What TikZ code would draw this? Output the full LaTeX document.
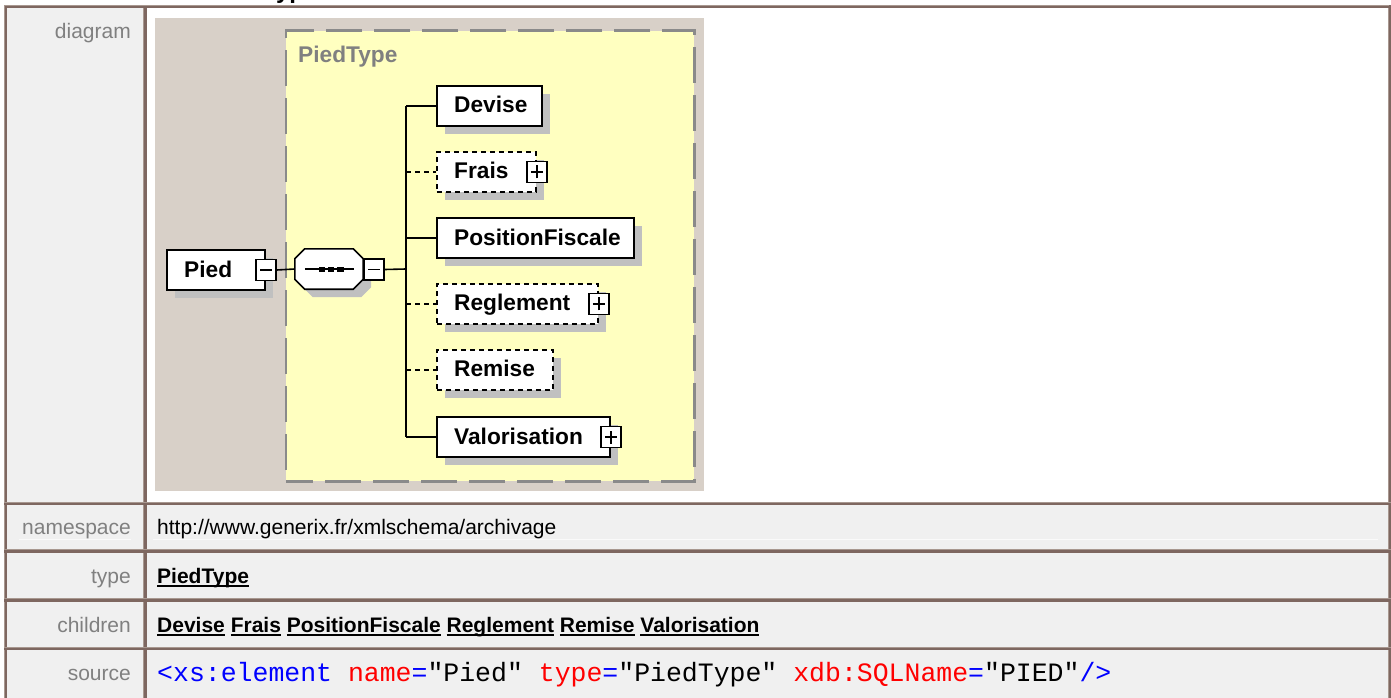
\documentclass[tikz,border=0pt]{standalone}
\usepackage{fontspec}
\setmainfont{Liberation Sans}
\newfontfamily\srcmono{Liberation Mono}
\usetikzlibrary{shadows}
\definecolor{bgbeige}{HTML}{D8D0C8}
\definecolor{typeyellow}{HTML}{FFFFC0}
\definecolor{shadowgray}{HTML}{C0C0C0}
\definecolor{rowgray}{HTML}{F0F0F0}
\definecolor{labelgray}{HTML}{808080}
\definecolor{borderdark}{HTML}{7E6760}
\definecolor{borderlight}{HTML}{A89890}
\definecolor{dashgray}{HTML}{8A8A8A}
\definecolor{srcblue}{HTML}{0000FF}
\definecolor{srcred}{HTML}{FF0000}
\definecolor{faintline}{HTML}{FAFAFA}
\newsavebox\lnkbox
\newcommand\lnk[1]{\sbox\lnkbox{#1}\rlap{\raisebox{-3.5pt}{\rule{\wd\lnkbox}{2pt}}}\usebox\lnkbox}
\begin{document}
\begin{tikzpicture}[x=1pt,y=-1pt,
  lbl/.style={font=\fontsize{21}{25}\selectfont, text=labelgray, inner sep=0pt, anchor=base east},
  val/.style={font=\fontsize{21}{25}\selectfont, text=black, inner sep=0pt, anchor=base west},
  elem/.style={rectangle, draw=black, line width=2pt, fill=white, inner sep=0pt, minimum height=40pt, anchor=north west,
    general shadow={fill=shadowgray, shadow xshift=8pt, shadow yshift=-8pt}},
  optelem/.style={elem, dash pattern=on 5pt off 4pt, line width=1.8pt},
  elemtext/.style={font=\fontsize{22.7}{26}\selectfont\bfseries, inner sep=0pt, anchor=base west},
  pmbox/.style={rectangle, draw=black, line width=1.5pt, fill=white, minimum width=20pt, minimum height=21pt, inner sep=0pt},
  minusbox/.style={pmbox, path picture={\draw[line width=1.5pt] ([xshift=4pt]path picture bounding box.west) -- ([xshift=-4pt]path picture bounding box.east);}},
  plusbox/.style={pmbox, path picture={
    \draw[line width=1.5pt] ([xshift=4pt]path picture bounding box.west) -- ([xshift=-4pt]path picture bounding box.east);
    \draw[line width=1.5pt] ([yshift=4pt]path picture bounding box.south) -- ([yshift=-4pt]path picture bounding box.north);}},
  conn/.style={draw=black, line width=1.6pt},
  optconn/.style={conn, dash pattern=on 5pt off 4pt},
  seqoct/.style={draw=black, line width=1.6pt, fill=white, general shadow={fill=shadowgray, shadow xshift=8pt, shadow yshift=-8pt}},
  typebox/.style={rectangle, draw=dashgray, line width=2.5pt, fill=typeyellow, dash pattern=on 36pt off 12pt, dash phase=9pt, inner sep=0pt, anchor=north west},
]
\useasboundingbox (0,0) rectangle (1391,698);
% backgrounds
\fill[white] (0,0) rectangle (1391,698);
\fill[rowgray] (7,8) rectangle (143,698);
\fill[rowgray] (147,505) rectangle (1388,698);
\fill[bgbeige] (155,18) rectangle (704,491);
\draw[faintline, line width=1pt] (19,539.5) -- (131,539.5);
\draw[faintline, line width=1pt] (153,539.5) -- (1378,539.5);
% borders
\fill[borderlight] (4,5) rectangle (1391,6.2);
\fill[borderdark] (4,6.2) rectangle (1391,8.3);
\fill[borderlight] (4,5) rectangle (5,698);
\fill[borderdark] (5,6) rectangle (7,698);
\fill[borderlight] (143.3,8) rectangle (144.3,698);
\fill[borderdark] (144.3,8) rectangle (146.7,698);
\fill[borderlight] (1388.3,8) rectangle (1389.3,698);
\fill[borderdark] (1389.3,5) rectangle (1391,698);
\foreach \yy in {501.7,549.3,598.3,646.7}{
  \fill[borderlight] (4,\yy) rectangle (1391,\yy+1);
  \fill[borderdark] (4,\yy+1) rectangle (1391,\yy+3.4);
}
% cut heading fragment
\node[font=\fontsize{24}{28}\selectfont\bfseries, inner sep=0pt, anchor=base west] (heading) at (263,-1) {Type};
% labels
\node[lbl] (l-diagram) at (131,39) {diagram};
\node[lbl] (l-namespace) at (131,534) {namespace};
\node[lbl] (l-type) at (131,583) {type};
\node[lbl] (l-children) at (131,632) {children};
\node[lbl] (l-source) at (131,680) {source};
% values
\node[val] (v-namespace) at (157,534) {http://www.generix.fr/xmlschema/archivage};
\node[val, font=\fontsize{21}{25}\selectfont\bfseries] (v-type) at (157,583) {\lnk{PiedType}};
\node[val, font=\fontsize{21}{25}\selectfont\bfseries] (v-children) at (157,632) {\lnk{Devise} \lnk{Frais} \lnk{PositionFiscale} \lnk{Reglement} \lnk{Remise} \lnk{Valorisation}};
\node[val, font=\fontsize{26.5}{30}\srcmono] (v-source) at (157,681) {{\color{srcblue}<xs:element}\ {\color{srcred}name}{\color{srcblue}=}"Pied"\ {\color{srcred}type}{\color{srcblue}=}"PiedType"\ {\color{srcred}xdb:SQLName}{\color{srcblue}=}"PIED"{\color{srcblue}/>}};
% diagram: complex type box
\node[typebox, minimum width=408.5pt, minimum height=450.5pt] (piedtype) at (284.5,29.5) {};
\node[elemtext, text=labelgray] (piedtype-t) at (298,63) {PiedType};
% element Pied
\node[elem, minimum width=98pt] (pied) at (166,249) {};
\node[elemtext] (pied-t) at ([xshift=18pt,yshift=-7pt]pied.west) {Pied};
\node[minusbox] (pied-pm) at (pied.east) {};
% sequence compositor
\node[inner sep=0pt, minimum width=68pt, minimum height=40pt] (seq) at (329,269) {};
\draw[seqoct] ([xshift=10pt]seq.north west) -- ([xshift=-10pt]seq.north east) -- ([yshift=-10pt]seq.north east)
  -- ([yshift=10pt]seq.south east) -- ([xshift=-10pt]seq.south east) -- ([xshift=10pt]seq.south west)
  -- ([yshift=10pt]seq.south west) -- ([yshift=-10pt]seq.north west) -- cycle;
\draw[line width=1.5pt] ([xshift=10pt]seq.west) -- ([xshift=-9pt]seq.east);
\fill (318.5,266.8) rectangle (325,272.2);
\fill (327.8,266.8) rectangle (334.3,272.2);
\fill (337,266.8) rectangle (343.5,272.2);
\node[minusbox] (seq-pm) at (374,269.5) {};
\draw[conn] (pied-pm.east) -- (seq.west);
% children
\node[elem, minimum width=105pt] (devise) at (436,85) {};
\node[optelem, minimum width=99pt] (frais) at (436,151) {};
\node[elem, minimum width=197pt] (posfisc) at (436,217) {};
\node[optelem, minimum width=161pt] (reglement) at (436,283) {};
\node[optelem, minimum width=116pt] (remise) at (436,349) {};
\node[elem, minimum width=173pt] (valor) at (436,416) {};
\node[elemtext] (devise-t) at ([xshift=18pt,yshift=-7pt]devise.west) {Devise};
\node[elemtext] (frais-t) at ([xshift=18pt,yshift=-7pt]frais.west) {Frais};
\node[elemtext] (posfisc-t) at ([xshift=18pt,yshift=-7pt]posfisc.west) {PositionFiscale};
\node[elemtext] (reglement-t) at ([xshift=18pt,yshift=-7pt]reglement.west) {Reglement};
\node[elemtext] (remise-t) at ([xshift=18pt,yshift=-7pt]remise.west) {Remise};
\node[elemtext] (valor-t) at ([xshift=18pt,yshift=-7pt]valor.west) {Valorisation};
\node[plusbox] (frais-pm) at (frais.east) {};
\node[plusbox] (reglement-pm) at (reglement.east) {};
\node[plusbox] (valor-pm) at (valor.east) {};
% connectors
\coordinate (trunk) at (406,269);
\draw[conn] (seq-pm.east) -- (trunk);
\draw[conn] (devise.west -| trunk) -- (valor.west -| trunk);
\draw[conn] (devise.west -| trunk) -- (devise.west);
\draw[optconn] (frais.west -| trunk) -- (frais.west);
\draw[conn] (posfisc.west -| trunk) -- (posfisc.west);
\draw[optconn] (reglement.west -| trunk) -- (reglement.west);
\draw[optconn] (remise.west -| trunk) -- (remise.west);
\draw[conn] (valor.west -| trunk) -- (valor.west);
\end{tikzpicture}
\end{document}
